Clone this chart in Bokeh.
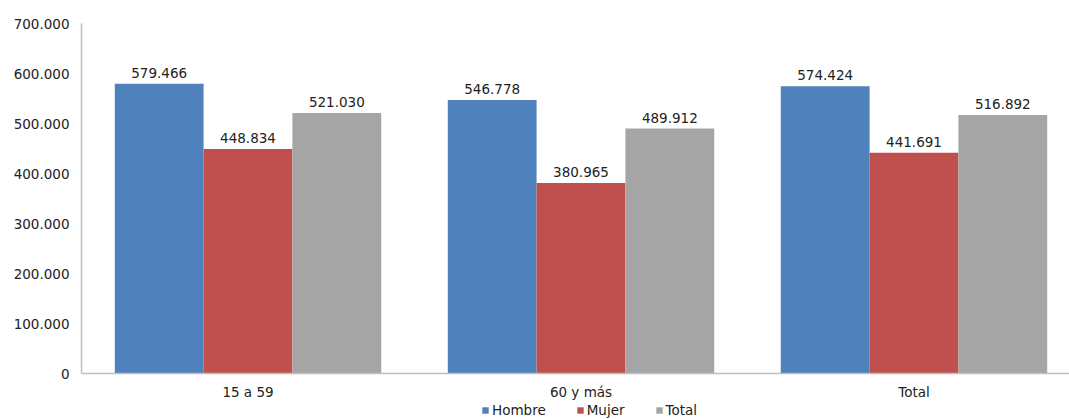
from bokeh.plotting import figure
from bokeh.models import ColumnDataSource, Range1d, FixedTicker, Legend, LegendItem
from bokeh.embed import file_html
from bokeh.resources import INLINE
from bokeh.core.properties import value

categories = ["15 a 59", "60 y más", "Total"]
hombre = [579466, 546778, 574424]
mujer = [448834, 380965, 441691]
total = [521030, 489912, 516892]
series_names = ["Hombre", "Mujer", "Total"]
colors = ["#4F81BD", "#C0504D", "#A5A5A5"]
y_ticks = [0, 100000, 200000, 300000, 400000, 500000, 600000, 700000]

def fmt(v):
    return f"{v:,}".replace(",", ".")

FONT = "DejaVu Sans"
p = figure(frame_width=988, frame_height=396, output_backend="svg", toolbar_location=None,
           x_range=Range1d(0, 2.967), y_range=Range1d(-92000, 700000),
           min_border_left=81, min_border_right=0, min_border_top=23, min_border_bottom=0)
p.outline_line_color = None
p.xgrid.visible = False
p.ygrid.visible = False

bw = 0.2667
offsets = [-bw, 0, bw]
renderers = []
for vals, off, col in zip([hombre, mujer, total], offsets, colors):
    xs = [i + 0.5 + off for i in range(len(categories))]
    src = ColumnDataSource(dict(x=xs, top=vals, lab=[fmt(v) for v in vals]))
    r = p.vbar(x="x", top="top", width=bw, source=src, fill_color=col, line_color=None)
    renderers.append(r)
    p.text(x="x", y="top", text="lab", source=src, text_align="center", text_baseline="bottom",
           y_offset=-6, text_font=value(FONT), text_font_size="13.5px", text_color="#222222")

p.xaxis.ticker = FixedTicker(ticks=[0.5, 1.5, 2.5])
p.xaxis.major_label_overrides = {0.5: categories[0], 1.5: categories[1], 2.5: categories[2]}
p.xaxis.fixed_location = 0
p.yaxis.ticker = FixedTicker(ticks=y_ticks)
p.yaxis.major_label_overrides = {t: fmt(t) for t in y_ticks}
p.yaxis.bounds = (0, 700000)
for ax in (p.xaxis, p.yaxis):
    ax.major_tick_line_color = None
    ax.minor_tick_line_color = None
    ax.major_tick_out = 0
    ax.axis_line_color = "#BFBFBF"
    ax.axis_line_width = 1.5
    ax.major_label_text_font = FONT
    ax.major_label_text_font_size = "13.5px"
    ax.major_label_text_color = "#222222"
p.xaxis.major_label_standoff = 10
p.yaxis.major_label_standoff = 12

legend = Legend(items=[LegendItem(label=n, renderers=[r]) for n, r in zip(series_names, renderers)],
                orientation="horizontal", location=(400, 1),
                glyph_width=8, glyph_height=8, label_standoff=3, spacing=30,
                label_text_font=FONT, label_text_font_size="13.5px", label_text_color="#222222",
                label_height=14, padding=0, margin=0, border_line_color=None, background_fill_alpha=0)
p.add_layout(legend, "center")

open("out.html", "w").write(file_html(p, INLINE))
